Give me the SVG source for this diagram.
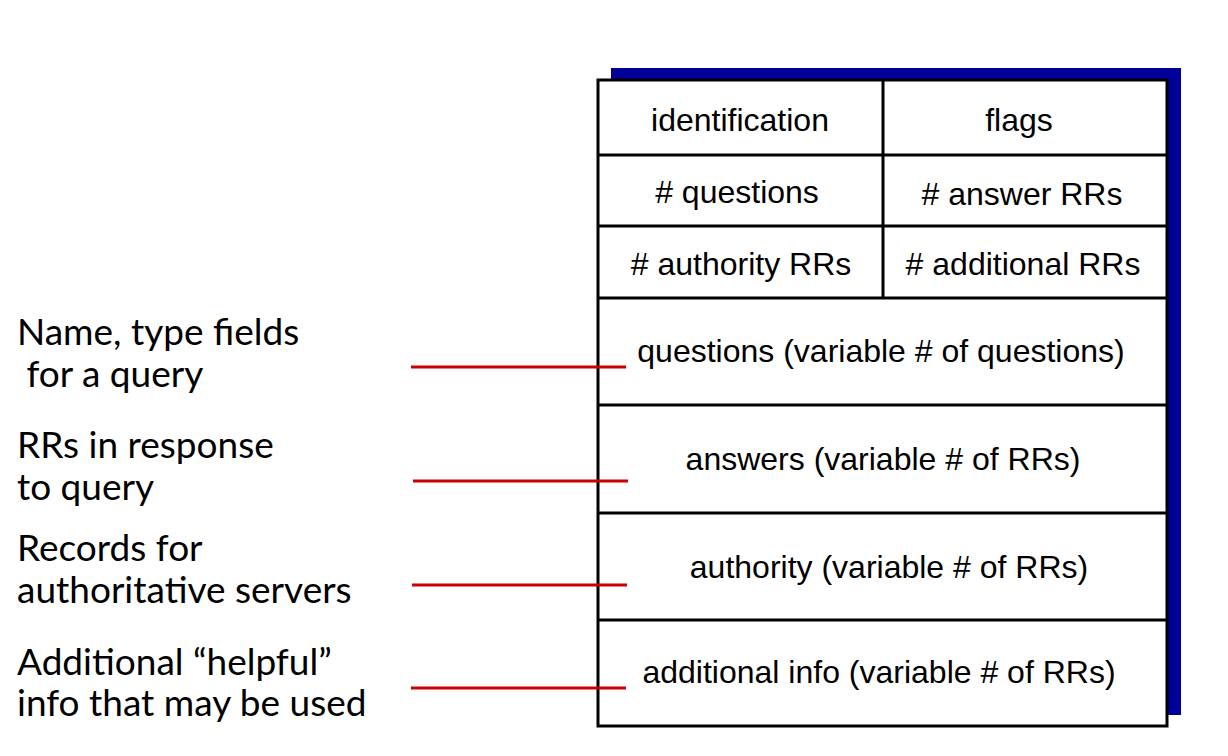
<svg xmlns="http://www.w3.org/2000/svg" width="1228" height="756" viewBox="0 0 1228 756">
<style>
.cell{fill:none;stroke:#000;stroke-width:3}
.box{fill:#fff;stroke:#000;stroke-width:3}
.ft{font-family:"Liberation Sans",Arial,sans-serif;font-size:32px;fill:#000;text-anchor:middle}
.lbl{font-family:Lato,"Open Sans",sans-serif;font-size:37px;fill:#000}
.conn{stroke:#cc0000;stroke-width:3;fill:none}
</style>
<rect width="1228" height="756" fill="#fff"/>
<g id="shadow"><rect x="611" y="68" width="570" height="647" fill="#000099"/></g>
<g id="message">
<rect x="598" y="80" width="569" height="646" class="box"/>
<line class="cell" x1="598" y1="155" x2="1167" y2="155"/>
<line class="cell" x1="598" y1="226" x2="1167" y2="226"/>
<line class="cell" x1="598" y1="298" x2="1167" y2="298"/>
<line class="cell" x1="598" y1="405" x2="1167" y2="405"/>
<line class="cell" x1="598" y1="513" x2="1167" y2="513"/>
<line class="cell" x1="598" y1="620" x2="1167" y2="620"/>
<line class="cell" x1="883" y1="80" x2="883" y2="298"/>
</g>
<g id="identification"><text class="ft" x="740" y="131">identification</text></g>
<g id="flags"><text class="ft" x="1019" y="131">flags</text></g>
<g id="num-questions"><text class="ft" x="737" y="203">#&#160;questions</text></g>
<g id="num-answer"><text class="ft" x="1022" y="205">#&#160;answer RRs</text></g>
<g id="num-authority"><text class="ft" x="741" y="275">#&#160;authority RRs</text></g>
<g id="num-additional"><text class="ft" x="1023" y="275">#&#160;additional RRs</text></g>
<g id="questions"><text class="ft" x="881" y="362">questions (variable # of questions)</text></g>
<g id="answers"><text class="ft" x="883" y="470">answers (variable # of RRs)</text></g>
<g id="authority"><text class="ft" x="889" y="578">authority (variable # of RRs)</text></g>
<g id="additional"><text class="ft" x="879" y="683">additional info (variable # of RRs)</text></g>
<g id="label-questions"><text class="lbl" x="17" y="345">Name, type fields</text><text class="lbl" x="17" y="387" xml:space="preserve"> for a query</text></g>
<g id="label-answers"><text class="lbl" x="17" y="458">RRs in response</text><text class="lbl" x="17" y="500">to query</text></g>
<g id="label-authority"><text class="lbl" x="17" y="561">Records for</text><text class="lbl" x="17" y="603">authoritative servers</text></g>
<g id="label-additional"><text class="lbl" x="17" y="675">Additional “helpful”</text><text class="lbl" x="17" y="716">info that may be used</text></g>
<g id="connectors">
<line class="conn" x1="411" y1="367" x2="626" y2="367"/>
<line class="conn" x1="413" y1="481" x2="628" y2="481"/>
<line class="conn" x1="412" y1="585" x2="627" y2="585"/>
<line class="conn" x1="411" y1="688" x2="626" y2="688"/>
</g>
</svg>
